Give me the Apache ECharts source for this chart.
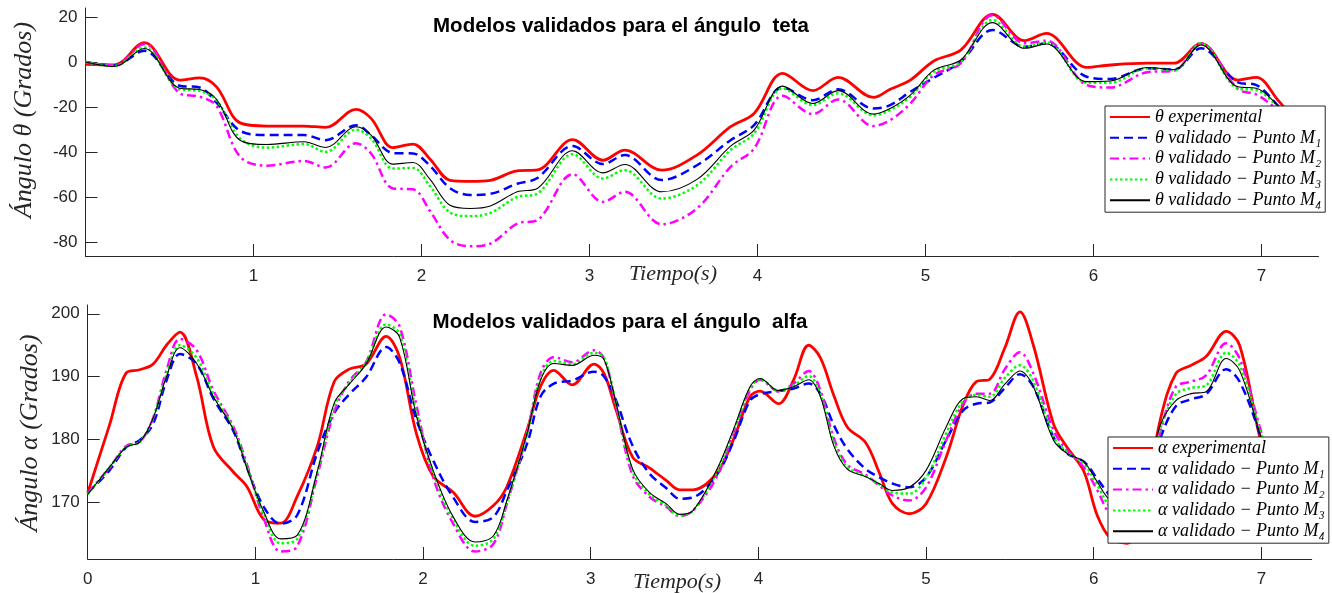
<!DOCTYPE html>
<html>
<head>
<meta charset="utf-8">
<script src="https://cdn.jsdelivr.net/npm/echarts@6/dist/echarts.min.js"></script>
<style>
  html, body { margin: 0; padding: 0; background: #fff; }
  #chart { width: 1332px; height: 593px; }
</style>
</head>
<body>
<div id="chart"></div>
<script>
// ---- Ángulo teta (upper panel) ----
const tTheta = [0, 0.17, 0.35, 0.56, 0.68, 0.78, 0.92, 1.08, 1.30, 1.43, 1.61, 1.70, 1.83, 1.95, 2.05, 2.17,
  2.29, 2.41, 2.57, 2.69, 2.90, 3.08, 3.21, 3.43, 3.64, 3.84, 3.98, 4.15, 4.33, 4.48, 4.69, 4.79, 4.91,
  5.05, 5.21, 5.40, 5.59, 5.72, 5.96, 6.10, 6.32, 6.48, 6.64, 6.86, 6.97, 7.10, 7.20];
const thetaExp = [-1, -1.3, 8.6, -8, -7, -11, -27, -28.4, -28.4, -29, -21, -25, -38, -36.4, -43, -52.5,
  -53, -52.5, -48.3, -47.9, -34.4, -43.6, -39.1, -48, -41.3, -28.7, -22.8, -5, -12.7, -6.8, -15.7, -12.1, -8,
  0.5, 5.3, 21.2, 9.5, 12.7, -2.4, -1.3, -0.5, -0.5, 8.3, -8, -6.8, -17, -26];
const thetaM1 = [0, -1.5, 5, -10.5, -11.3, -18, -30.5, -32.4, -32.4, -34.7, -28, -32.4, -40.4, -40.6, -46, -56,
  -59, -58.5, -54, -51.5, -37.3, -45.3, -41.3, -52.4, -45.8, -34.7, -28, -11.3, -16.9, -12.1, -20.6, -19.1, -13.2,
  -7, 0.1, 14.2, 6.8, 8.3, -6.5, -7.5, -2.8, -3.3, 6.1, -9, -10.2, -19.5, -28];
const thetaM2 = [0, -1.5, 8, -13.8, -15.4, -19.5, -42, -46, -43.9, -46.8, -36, -40.6, -56.1, -56.5, -66, -79,
  -81.8, -80.6, -71.7, -70.2, -49.8, -62.1, -57.6, -72, -65, -46.5, -38.4, -15, -23.1, -16.6, -28.4, -25.8, -18.4,
  -5.8, -0.6, 20.9, 8.3, 9.5, -10.2, -11.3, -4.5, -3.9, 8.3, -12, -14.4, -21.5, -29];
const thetaM3 = [0, -1.8, 6.5, -12.1, -12.8, -17, -33.9, -38, -36.4, -39.9, -30, -33.9, -47.3, -47, -55, -66.8,
  -68.4, -67, -59.9, -58.4, -40.9, -51.7, -48, -60.6, -54.7, -39.1, -31.7, -11.7, -19.1, -13.9, -23.6, -21.3, -15.4,
  -4.3, 0.1, 18.7, 6.8, 8.6, -9.2, -9.2, -2.8, -3.6, 8.3, -11.7, -12.4, -20, -28];
const thetaM4 = [0, -2, 6, -11.6, -12.2, -16.5, -34.7, -36.6, -35.4, -37.9, -28.7, -32.4, -45.3, -44.6, -52, -63.6,
  -65, -63.9, -57.6, -56.1, -39.4, -49.2, -45.5, -57.6, -52.1, -37.3, -30.2, -10.7, -18.4, -12.7, -23.1, -20.6, -14.7,
  -3.6, 0.9, 17.5, 6.1, 8, -8.7, -8.4, -2.4, -3.3, 7.6, -11, -11.6, -19.5, -28];

// ---- Ángulo alfa (lower panel) ----
const tAlpha = [0, 0.13, 0.23, 0.31, 0.39, 0.47, 0.55, 0.65, 0.75, 0.87, 0.95, 1.05, 1.15, 1.25, 1.37, 1.47,
  1.56, 1.66, 1.78, 1.86, 1.96, 2.06, 2.18, 2.31, 2.42, 2.50, 2.62, 2.70, 2.78, 2.89, 3.02, 3.08, 3.15, 3.25,
  3.35, 3.45, 3.53, 3.61, 3.75, 3.85, 3.95, 4.01, 4.12, 4.21, 4.30, 4.37, 4.45, 4.53, 4.64, 4.72, 4.80, 4.90,
  5.00, 5.12, 5.22, 5.30, 5.38, 5.47, 5.56, 5.64, 5.76, 5.84, 5.94, 6.02, 6.10, 6.20, 6.30, 6.40, 6.49, 6.58,
  6.67, 6.79, 6.87, 6.99, 7.10];
const alphaExp = [171.5, 182.3, 190.6, 191.1, 192, 195, 197.1, 190, 178.8, 174.8, 172.5, 167.3, 166.7, 171, 179, 189.2,
  191.2, 192, 196.4, 193.1, 181, 174.2, 171.6, 167.8, 169.5, 172.5, 181.5, 188.4, 191, 188.7, 192, 190.5, 184.8, 177.2,
  175.5, 173.5, 172, 172, 174.6, 179.9, 186.8, 187.7, 185.7, 189.5, 195, 193, 187, 182, 179.5, 174.8, 169.8, 168.2,
  169.8, 177.2, 185.4, 189.2, 189.6, 194.6, 200.3, 195, 182.5, 178.8, 175, 168, 164.3, 163.5, 170, 183.5, 190.5, 191.8,
  193.2, 197.2, 195, 180.4, 170];
const alphaM1 = [171.5, 175.1, 178.8, 179.9, 182.5, 189.4, 193.6, 192, 186.5, 181.3, 175.5, 169.3, 166.6, 168, 178, 184.2,
  187.2, 189.9, 194.7, 192.2, 183.2, 176.7, 170.8, 166.9, 167.7, 171.9, 179.3, 186.8, 188.9, 189.4, 190.8, 190, 186.3, 179,
  174.6, 172.3, 170.6, 170.8, 174.3, 179.6, 186.2, 187.2, 187.7, 188.1, 188.9, 187.3, 182.3, 178.5, 175.3, 174, 173, 172.4,
  174, 179.9, 184.6, 185.7, 185.9, 188.2, 190.4, 188.4, 180.4, 177.8, 176.5, 173.8, 171, 168.5, 172, 180.4, 185.3, 186.4,
  187.2, 191.2, 189.2, 181, 172];
const alphaM2 = [171.5, 175.5, 179, 179.6, 183.4, 191, 196, 194.2, 187.8, 182, 176, 167.5, 162.2, 163, 174.3, 184.4,
  189.3, 192.3, 199.9, 198, 185.5, 174, 166.6, 162.2, 163.4, 169.8, 180.9, 190.5, 193.1, 192.3, 194.2, 192.9, 185.5, 174.3,
  170.9, 169.3, 167.8, 168.7, 174, 180.9, 187.8, 189.5, 187.7, 188.9, 190.9, 187.8, 180.2, 176, 174.4, 172.7, 171.1, 170.3,
  172.4, 179.9, 185.7, 187.3, 187.3, 191.2, 193.9, 190.5, 181.5, 178.3, 175.6, 172, 168, 166.5, 171, 181.5, 188.4, 189.2,
  190.2, 195.3, 192.9, 182, 172];
const alphaM3 = [171.3, 175.6, 178.8, 179.6, 183.4, 190.3, 195, 193, 187.2, 181.8, 175.6, 168.2, 163.5, 164.2, 174.8, 185.2,
  189, 192.2, 198.3, 196.8, 184.3, 174.8, 167.3, 163.1, 164.2, 170, 180.9, 189.8, 192.5, 192, 193.8, 193, 185.8, 174.9,
  171.3, 169.5, 167.9, 168.7, 174.7, 181.2, 188.1, 189.6, 187.8, 188.6, 190.1, 187.2, 179.5, 175.6, 174.2, 172.9, 171.6, 171.4,
  173.9, 181, 186.1, 187.1, 186.8, 189.8, 191.8, 189.3, 180.5, 178, 176.2, 172.8, 169.3, 168.5, 172, 182, 187.2, 188.2,
  188.6, 193.8, 191.8, 181.5, 172];
const alphaM4 = [171.3, 175.6, 178.8, 179.6, 183.4, 190, 194.6, 192.1, 186.8, 181.5, 175.4, 168.5, 164.2, 164.8, 175, 185.8,
  188.8, 192, 197.9, 196.3, 183.8, 175.1, 167.7, 163.7, 164.7, 170.3, 180.9, 189.4, 192.1, 191.8, 193.4, 192.7, 185.9, 175.3,
  171.6, 169.8, 168.1, 168.7, 175.1, 181.5, 188.4, 189.7, 187.8, 188.4, 189.5, 186.8, 179, 175.3, 174.1, 173, 171.9, 172.4,
  175.1, 182, 186.5, 186.8, 186.2, 188.8, 190.9, 188.4, 179.9, 177.8, 176.5, 173.3, 170.3, 169.5, 173, 182.5, 186.2, 187.3,
  187.6, 192.9, 191, 181, 172];

// ---- Axis ticks ----
const timeTicksTop = [1, 2, 3, 4, 5, 6, 7];
const timeTicksBottom = [0, 1, 2, 3, 4, 5, 6, 7];
const thetaTicks = [-80, -60, -40, -20, 0, 20];
const alphaTicks = [170, 180, 190, 200];

// ---- Text ----
const titleTheta = 'Modelos validados para el ángulo  teta';
const titleAlpha = 'Modelos validados para el ángulo  alfa';
const namesTheta = ['θ experimental', 'θ validado − Punto M₁', 'θ validado − Punto M₂', 'θ validado − Punto M₃', 'θ validado − Punto M₄'];
const namesAlpha = ['α experimental', 'α validado − Punto M₁', 'α validado − Punto M₂', 'α validado − Punto M₃', 'α validado − Punto M₄'];

const AX = '#262626';
const tickFont = { color: AX, fontSize: 17, fontFamily: '"Liberation Sans", Arial, sans-serif' };
const serifItalic = '"Liberation Serif", "DejaVu Serif", serif';

// Line styles: experimental solid red, M1 dashed blue, M2 dash-dot magenta, M3 dotted green, M4 thin black
const styles = [
  { color: '#ff0000', width: 2.8, type: 'solid' },
  { color: '#0000ff', width: 2.5, type: [9, 5] },
  { color: '#ff00ff', width: 2.5, type: [9, 4, 2.5, 4] },
  { color: '#00ff00', width: 2.5, type: [2.5, 2.5] },
  { color: '#000000', width: 1.1, type: 'solid' }
];

const pairs = (xs, ys) => xs.map((x, i) => [x, ys[i]]);

function makeSeries(names, t, valueLists, idx) {
  return valueLists.map((vals, k) => ({
    name: names[k],
    type: 'line',
    xAxisIndex: idx,
    yAxisIndex: idx,
    data: pairs(t, vals),
    smooth: 0.35,
    symbol: 'none',
    clip: true,
    animation: false,
    itemStyle: { color: styles[k].color },
    lineStyle: { color: styles[k].color, width: styles[k].width, type: styles[k].type, cap: 'butt' }
  }));
}

function timeAxis(gridIndex, max, ticks) {
  return {
    type: 'value', gridIndex, min: 0, max,
    axisLine: { show: true, onZero: false, lineStyle: { color: AX, width: 1 } },
    axisTick: { show: true, inside: true, length: 12, customValues: ticks, lineStyle: { color: AX } },
    axisLabel: Object.assign({ customValues: ticks, margin: 12 }, tickFont),
    splitLine: { show: false }
  };
}

function valueAxis(gridIndex, min, max, ticks) {
  return {
    type: 'value', gridIndex, min, max,
    axisLine: { show: true, onZero: false, lineStyle: { color: AX, width: 1 } },
    axisTick: { show: true, inside: true, length: 12, customValues: ticks, lineStyle: { color: AX } },
    axisLabel: Object.assign({ customValues: ticks, margin: 8 }, tickFont),
    splitLine: { show: false }
  };
}

// Boxed legend drawn over the curves (white fill hides the lines beneath)
function legendBox(names, left, top) {
  return {
    data: names,
    orient: 'vertical',
    left, top,
    z: 10,
    itemWidth: 40,
    itemHeight: 14,
    itemGap: 2.8,
    padding: [2, 4, 3, 4],
    backgroundColor: '#ffffff',
    borderColor: AX,
    borderWidth: 1,
    borderRadius: 0,
    selectedMode: false,
    itemStyle: { opacity: 0, borderWidth: 0 },
    textStyle: { color: '#000', fontSize: 18, fontStyle: 'italic', fontFamily: serifItalic, lineHeight: 18 }
  };
}

const chart = echarts.init(document.getElementById('chart'), null, { renderer: 'canvas' });
chart.setOption({
  backgroundColor: '#ffffff',
  animation: false,
  grid: [
    { left: 85.5, top: 8, width: 1233, height: 248 },
    { left: 87.7, top: 305, width: 1224, height: 254 }
  ],
  xAxis: [timeAxis(0, 7.34, timeTicksTop), timeAxis(1, 7.30, timeTicksBottom)],
  yAxis: [valueAxis(0, -86.1, 24, thetaTicks), valueAxis(1, 161, 201.4, alphaTicks)],
  legend: [legendBox(namesTheta, 1105, 106), legendBox(namesAlpha, 1108, 437)],
  graphic: [
    { type: 'text', x: 621, y: 26, style: { text: titleTheta, fill: '#000', font: 'bold 20.5px "Liberation Sans", Arial, sans-serif', align: 'center', verticalAlign: 'middle' } },
    { type: 'text', x: 620, y: 322, style: { text: titleAlpha, fill: '#000', font: 'bold 20.5px "Liberation Sans", Arial, sans-serif', align: 'center', verticalAlign: 'middle' } },
    { type: 'text', x: 673, y: 274, style: { text: 'Tiempo(s)', fill: AX, font: 'italic 22px ' + serifItalic, align: 'center', verticalAlign: 'middle' } },
    { type: 'text', x: 677, y: 582, style: { text: 'Tiempo(s)', fill: AX, font: 'italic 22px ' + serifItalic, align: 'center', verticalAlign: 'middle' } },
    { type: 'text', x: 24, y: 120, rotation: Math.PI / 2, style: { text: 'Ángulo θ (Grados)', fill: AX, font: 'italic 26px ' + serifItalic, align: 'center', verticalAlign: 'middle' } },
    { type: 'text', x: 30, y: 433, rotation: Math.PI / 2, style: { text: 'Ángulo α (Grados)', fill: AX, font: 'italic 26px ' + serifItalic, align: 'center', verticalAlign: 'middle' } }
  ],
  series: [].concat(
    makeSeries(namesTheta, tTheta, [thetaExp, thetaM1, thetaM2, thetaM3, thetaM4], 0),
    makeSeries(namesAlpha, tAlpha, [alphaExp, alphaM1, alphaM2, alphaM3, alphaM4], 1)
  )
});
</script>
</body>
</html>
